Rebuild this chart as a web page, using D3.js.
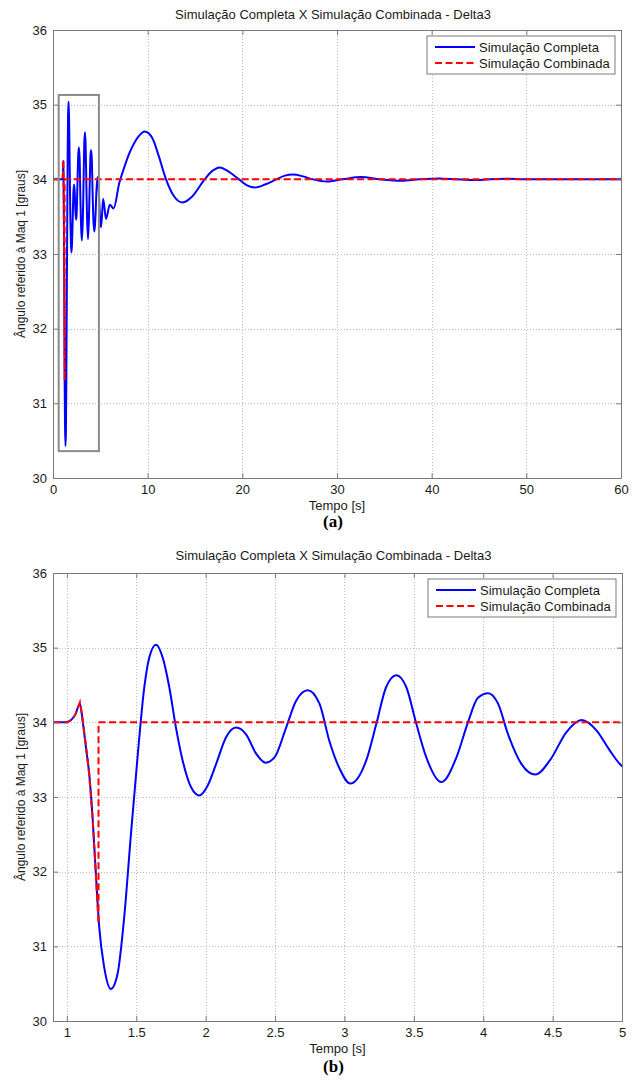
<!DOCTYPE html>
<html>
<head>
<meta charset="utf-8">
<script src="https://cdn.jsdelivr.net/npm/d3@7"></script>
<style>
  body { margin: 0; background: #fff; }
  svg { display: block; font-family: "Liberation Sans", Arial, Helvetica, sans-serif; }
</style>
</head>
<body>
<svg id="chart" width="638" height="1084"></svg>
<script>
// Simulação Completa (azul) - tempo [s] e ângulo [graus]
const completaTempo = [
  0, 1.0, 1.03, 1.06, 1.094, 1.113, 1.137, 1.161, 1.185, 1.209, 1.233, 1.269, 1.317,
  1.365, 1.413, 1.462, 1.509, 1.558, 1.594, 1.642, 1.69, 1.738, 1.786, 1.834, 1.895,
  1.955, 2.014, 2.075, 2.147, 2.219, 2.291, 2.364, 2.431, 2.496, 2.58, 2.652, 2.736,
  2.82, 2.893, 2.965, 3.042, 3.157, 3.23, 3.30, 3.374, 3.446, 3.518, 3.59, 3.698,
  3.807, 3.89, 3.962, 4.035, 4.107, 4.179, 4.276, 4.376, 4.48, 4.60, 4.709, 4.817,
  4.913, 4.997, 5.08, 5.3, 5.6, 6.0, 6.4, 7.0, 7.5, 8.07, 9.0, 9.7, 10.5, 11.2, 11.94,
  12.8, 13.7, 14.7, 15.96, 16.8, 17.6, 18.6, 19.65, 20.5, 21.3, 22.4, 23.6, 24.5,
  25.35, 26.4, 27.45, 28.9, 30.6, 32.55, 34.5, 36.8, 38.7, 40.8, 42.6, 44.3, 46.1,
  47.9, 50.0, 60
];
const completaAngulo = [
  34, 34, 34.03, 34.1, 34.25, 34.03, 33.67, 33.31, 32.73, 31.97, 31.26, 30.72, 30.43,
  30.63, 31.39, 32.51, 33.53, 34.47, 34.87, 35.04, 34.87, 34.47, 33.93, 33.49, 33.13,
  33.02, 33.15, 33.44, 33.80, 33.93, 33.84, 33.58, 33.46, 33.53, 33.93, 34.29, 34.43,
  34.25, 33.74, 33.38, 33.18, 33.49, 33.98, 34.47, 34.63, 34.47, 33.98, 33.53, 33.20,
  33.53, 34.0, 34.33, 34.39, 34.25, 33.84, 33.44, 33.30, 33.49, 33.87, 34.03, 33.89,
  33.62, 33.42, 33.36, 33.74, 33.47, 33.66, 33.61, 33.95, 34.15, 34.35, 34.57, 34.64,
  34.55, 34.3, 34.0, 33.77, 33.69, 33.77, 33.99, 34.11, 34.16, 34.1, 34.0, 33.92,
  33.89, 33.93, 34.0, 34.05, 34.065, 34.04, 34.0, 33.97, 34.0, 34.03, 34.0, 33.98,
  34.0, 34.012, 34.0, 33.99, 34.0, 34.008, 34.0, 34
];

// Simulação Combinada (vermelho tracejado)
const combinadaTempo = [0, 1.0, 1.03, 1.06, 1.094, 1.113, 1.137, 1.161, 1.185, 1.209, 1.228, 1.228, 60];
const combinadaAngulo = [34, 34, 34.03, 34.1, 34.27, 34.05, 33.7, 33.3, 32.72, 31.95, 31.3, 34, 34];

const seriesNames = ["Simulação Completa", "Simulação Combinada"];
const seriesColors = ["#0000ff", "#ff0000"];
const chartTitle = "Simulação Completa X Simulação Combinada - Delta3";
const yLabel = "Ângulo referido à Maq 1 [graus]";
const xLabel = "Tempo [s]";
const yTicks = [30, 31, 32, 33, 34, 35, 36];
const xTicksA = [0, 10, 20, 30, 40, 50, 60];
const xTicksB = [1, 1.5, 2, 2.5, 3, 3.5, 4, 4.5, 5];

const svg = d3.select("#chart");
const completa = completaTempo.map((t, i) => ({ t, v: completaAngulo[i] }));
const combinada = combinadaTempo.map((t, i) => ({ t, v: combinadaAngulo[i] }));

const axisColor = "#7a7a7a";
const textColor = "#1a1a1a";

function drawPanel({ id, top, bottom, left, right, xDomain, xTicks, titleY, xLabelY, tag, tagY, box }) {
  const x = d3.scaleLinear().domain(xDomain).range([left, right]);
  const y = d3.scaleLinear().domain([30, 36]).range([bottom, top]);
  const g = svg.append("g");

  // grid pontilhado
  const grid = g.append("g")
    .attr("stroke", "#bdbdbd")
    .attr("stroke-width", 1)
    .attr("stroke-dasharray", "1,2");
  grid.selectAll(".gx")
    .data(xTicks.filter(t => t > xDomain[0] && t < xDomain[1]))
    .join("line")
    .attr("x1", d => Math.round(x(d)) + 0.5).attr("x2", d => Math.round(x(d)) + 0.5)
    .attr("y1", top).attr("y2", bottom);
  grid.selectAll(".gy")
    .data(yTicks.slice(1, -1))
    .join("line")
    .attr("y1", d => Math.round(y(d)) + 0.5).attr("y2", d => Math.round(y(d)) + 0.5)
    .attr("x1", left).attr("x2", right);

  // curvas
  g.append("clipPath").attr("id", "clip" + id)
    .append("rect").attr("x", left).attr("y", top)
    .attr("width", right - left).attr("height", bottom - top);

  const plot = g.append("g").attr("clip-path", "url(#clip" + id + ")");
  const lineSmooth = d3.line().x(d => x(d.t)).y(d => y(d.v)).curve(d3.curveMonotoneX);
  const lineStraight = d3.line().x(d => x(d.t)).y(d => y(d.v));

  plot.append("path").datum(completa)
    .attr("d", lineSmooth)
    .attr("fill", "none")
    .attr("stroke", seriesColors[0])
    .attr("stroke-width", 2)
    .attr("stroke-linejoin", "round");
  plot.append("path").datum(combinada)
    .attr("d", lineStraight)
    .attr("fill", "none")
    .attr("stroke", seriesColors[1])
    .attr("stroke-width", 2)
    .attr("stroke-dasharray", "7,3.5");

  // retângulo de destaque (apenas no painel a)
  if (box) {
    g.append("rect")
      .attr("x", x(box.t0)).attr("y", y(box.v1))
      .attr("width", x(box.t1) - x(box.t0)).attr("height", y(box.v0) - y(box.v1))
      .attr("fill", "none").attr("stroke", "#8a8a8a").attr("stroke-width", 2);
  }

  // eixos com ticks para dentro
  const fmt = d => String(d);
  const ax = g.append("g").attr("font-size", 13).attr("fill", textColor);
  const bottomAxis = ax.append("g").attr("transform", `translate(0,${bottom})`)
    .call(d3.axisBottom(x).tickValues(xTicks).tickFormat(fmt).tickSizeInner(-5).tickSizeOuter(0).tickPadding(7));
  const leftAxis = ax.append("g").attr("transform", `translate(${left},0)`)
    .call(d3.axisLeft(y).tickValues(yTicks).tickFormat(fmt).tickSizeInner(-5).tickSizeOuter(0).tickPadding(6));
  const topAxis = ax.append("g").attr("transform", `translate(0,${top})`)
    .call(d3.axisTop(x).tickValues(xTicks).tickFormat("").tickSizeInner(-5).tickSizeOuter(0));
  const rightAxis = ax.append("g").attr("transform", `translate(${right},0)`)
    .call(d3.axisRight(y).tickValues(yTicks).tickFormat("").tickSizeInner(-5).tickSizeOuter(0));
  [bottomAxis, leftAxis, topAxis, rightAxis].forEach(a => {
    a.attr("font-family", null).attr("font-size", null);
    a.select(".domain").attr("stroke", axisColor);
    a.selectAll(".tick line").attr("stroke", axisColor);
    a.selectAll(".tick text").attr("fill", textColor);
  });

  // título e rótulos
  g.append("text")
    .attr("x", (left + right) / 2 - 4).attr("y", titleY)
    .attr("text-anchor", "middle").attr("font-size", 13).attr("fill", textColor)
    .text(chartTitle);
  g.append("text")
    .attr("x", (left + right) / 2).attr("y", xLabelY)
    .attr("text-anchor", "middle").attr("font-size", 13).attr("fill", textColor)
    .text(xLabel);
  g.append("text")
    .attr("transform", `translate(21,${(top + bottom) / 2}) rotate(-90)`)
    .attr("dy", "0.35em")
    .attr("text-anchor", "middle").attr("font-size", 12).attr("fill", textColor)
    .text(yLabel);
  g.append("text")
    .attr("x", (left + right) / 2 - 4).attr("y", tagY)
    .attr("text-anchor", "middle")
    .attr("font-family", "'Liberation Serif', 'Times New Roman', serif")
    .attr("font-weight", "bold").attr("font-size", 17).attr("fill", "#000")
    .text(tag);

  // legenda
  const lg = g.append("g").attr("transform", `translate(${right - 194},${top + 6})`);
  lg.append("rect").attr("width", 188).attr("height", 38)
    .attr("fill", "#fff").attr("stroke", axisColor).attr("stroke-width", 1);
  const items = lg.selectAll(".item").data(seriesNames).join("g")
    .attr("transform", (d, i) => `translate(0,${11 + i * 16})`);
  items.append("line")
    .attr("x1", 8).attr("x2", 48)
    .attr("stroke", (d, i) => seriesColors[i])
    .attr("stroke-width", 2)
    .attr("stroke-dasharray", (d, i) => i === 1 ? "7,3.5" : null);
  items.append("text")
    .attr("x", 52).attr("dy", "0.35em")
    .attr("font-size", 13).attr("fill", textColor)
    .text(d => d);
}

drawPanel({
  id: "a", top: 30, bottom: 478, left: 53, right: 621,
  xDomain: [0, 60], xTicks: xTicksA,
  titleY: 19, xLabelY: 510, tag: "(a)", tagY: 527,
  box: { t0: 0.6, t1: 4.85, v0: 30.36, v1: 35.13 }
});

drawPanel({
  id: "b", top: 573, bottom: 1021, left: 53, right: 622,
  xDomain: [0.9, 5], xTicks: xTicksB,
  titleY: 560, xLabelY: 1053, tag: "(b)", tagY: 1072
});
</script>
</body>
</html>
